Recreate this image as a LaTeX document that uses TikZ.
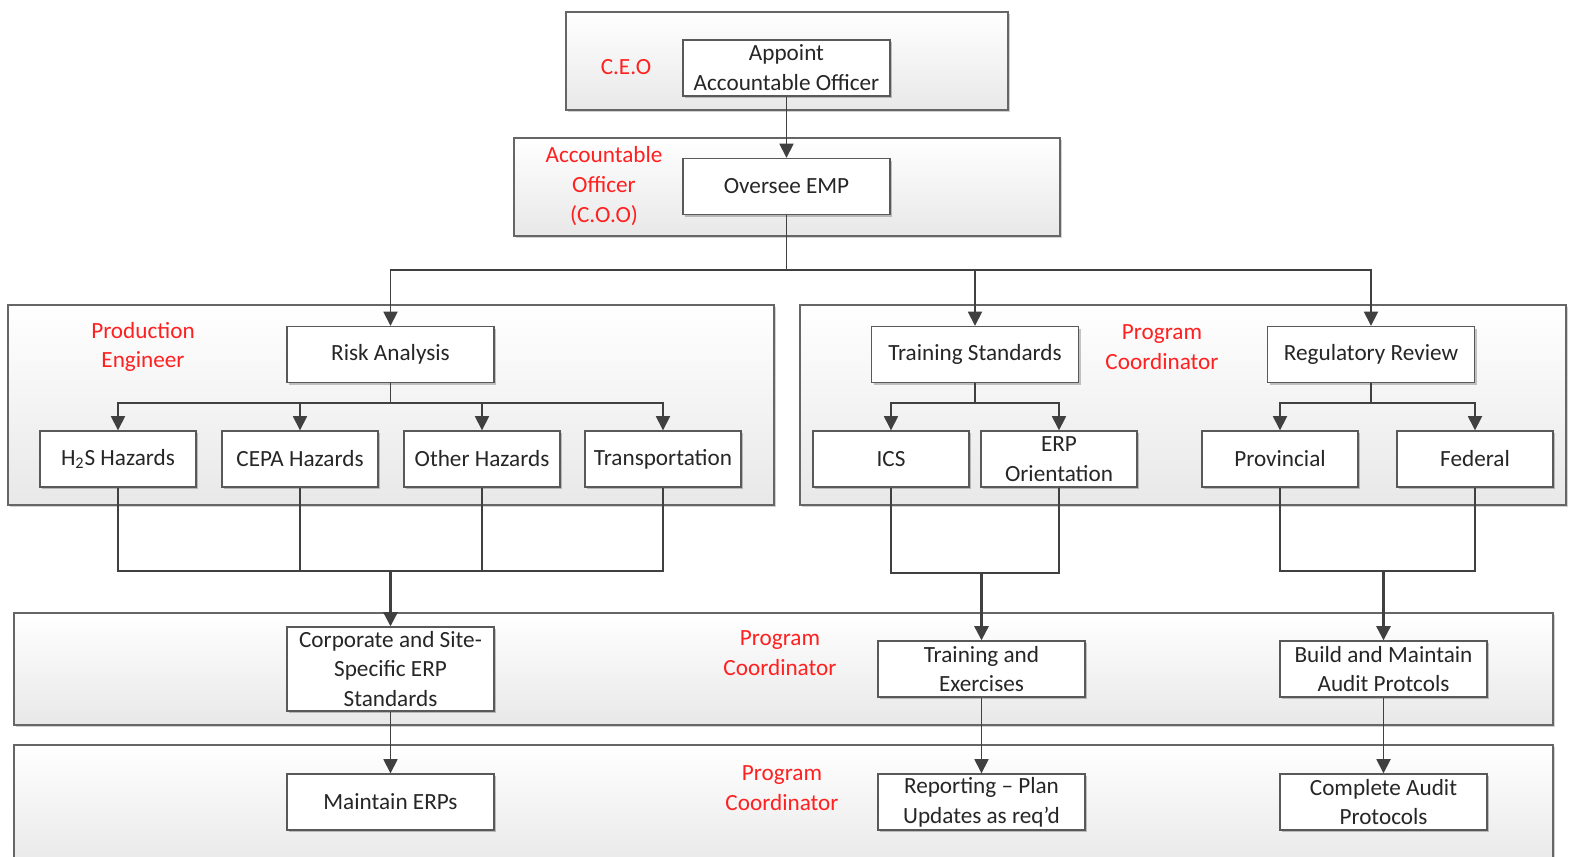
\documentclass[tikz,border=0pt]{standalone}
\usepackage{fontspec}
\setmainfont{Carlito}
\usetikzlibrary{arrows.meta,shadows}
\definecolor{linegray}{HTML}{404040}
\definecolor{rolered}{HTML}{FF2020}
\tikzset{
  panel/.style={draw=black!60, line width=0.9pt, top color=white, bottom color=black!9,
    drop shadow={shadow xshift=1.2pt, shadow yshift=-1.2pt, fill=black, opacity=0.18}},
  task/.style={draw=black!65, line width=0.8pt, fill=white, align=center,
    minimum width=4.14cm, minimum height=1.12cm, inner sep=1pt,
    font=\fontsize{13.2}{17}\selectfont, text=black!85,
    drop shadow={shadow xshift=1.2pt, shadow yshift=-1.2pt, fill=black, opacity=0.22}},
  small/.style={task, minimum width=3.12cm},
  role/.style={align=center, text=rolered, font=\fontsize{13.2}{17}\selectfont},
  conn/.style={draw=linegray, line width=0.9pt},
  arr/.style={conn, -{Triangle[length=8pt,width=8pt]}}
}
\begin{document}
\begin{tikzpicture}[x=0.02cm,y=-0.02cm]
\useasboundingbox (0,0) rectangle (1569,857);
% panels
\draw[panel] (566,12) rectangle (1008,110);
\draw[panel] (514,138) rectangle (1060,236);
\draw[panel] (8,305) rectangle (774,505);
\draw[panel] (800,305) rectangle (1566,505);
\draw[panel] (14,613) rectangle (1553,725);
\draw[panel] (14,745) rectangle (1553,870);
% roles
\node[role] (rceo) at (626,67) {C.E.O};
\node[role] (rcoo) at (604,186) {Accountable\\Officer\\(C.O.O)};
\node[role] (rprod) at (143,347) {Production\\Engineer};
\node[role] (rprog) at (1162,347) {Program\\Coordinator};
\node[role] (rprogb) at (780,653) {Program\\Coordinator};
\node[role] (rprogc) at (782,788) {Program\\Coordinator};
% tasks
\node[task] (appoint) at (786.5,68) {Appoint\\Accountable Officer};
\node[task] (oversee) at (786.5,186.5) {Oversee EMP};
\node[task] (risk) at (390.5,354.5) {Risk Analysis};
\node[task] (train) at (975,354.5) {Training Standards};
\node[task] (regrev) at (1371,354.5) {Regulatory Review};
\foreach \n/\x/\l in {h2s/118/H\textsubscript{2}S Hazards, cepa/300/CEPA Hazards,
    other/482/Other Hazards, transp/663/Transportation, ics/891/ICS,
    erp/1059/ERP\\Orientation, prov/1280/Provincial, fed/1475/Federal}
  \node[small] (\n) at (\x,459) {\l};
\node[task, minimum height=1.68cm] (corp) at (390.5,669) {Corporate and Site-\\Specific ERP\\Standards};
\node[task] (trex) at (981.5,669) {Training and\\Exercises};
\node[task] (build) at (1383.5,669) {Build and Maintain\\Audit Protcols};
\node[task] (maint) at (390.5,802) {Maintain ERPs};
\node[task] (report) at (981.5,802) {Reporting -- Plan\\Updates as req’d};
\node[task] (complete) at (1383.5,802) {Complete Audit\\Protocols};
% junctions
\coordinate (jtop) at (786.5,270);
\coordinate (jrisk) at (390.5,403);
\coordinate (jtrain) at (975,403);
\coordinate (jreg) at (1371,403);
\coordinate (jhaz) at (390.5,571);
\coordinate (jtr) at (981.5,573);
\coordinate (jfed) at (1383.5,571);
% connectors
\draw[arr] (appoint) -- (oversee);
\draw[conn] (oversee) -- (jtop);
\foreach \n in {risk,train,regrev}
  \draw[arr] (jtop) -| (\n.north);
\draw[conn] (risk) -- (jrisk);
\foreach \n in {h2s,cepa,other,transp}
  \draw[arr] (jrisk) -| (\n.north);
\draw[conn] (train) -- (jtrain);
\foreach \n in {ics,erp}
  \draw[arr] (jtrain) -| (\n.north);
\draw[conn] (regrev) -- (jreg);
\foreach \n in {prov,fed}
  \draw[arr] (jreg) -| (\n.north);
\foreach \n in {h2s,cepa,other,transp}
  \draw[conn] (\n.south) |- (jhaz);
\foreach \n in {ics,erp}
  \draw[conn] (\n.south) |- (jtr);
\foreach \n in {prov,fed}
  \draw[conn] (\n.south) |- (jfed);
\draw[arr, line width=1.3pt] (jhaz) -- (corp);
\draw[arr, line width=1.3pt] (jtr) -- (trex);
\draw[arr, line width=1.3pt] (jfed) -- (build);
\draw[arr] (corp) -- (maint);
\draw[arr] (trex) -- (report);
\draw[arr] (build) -- (complete);
\end{tikzpicture}
\end{document}
